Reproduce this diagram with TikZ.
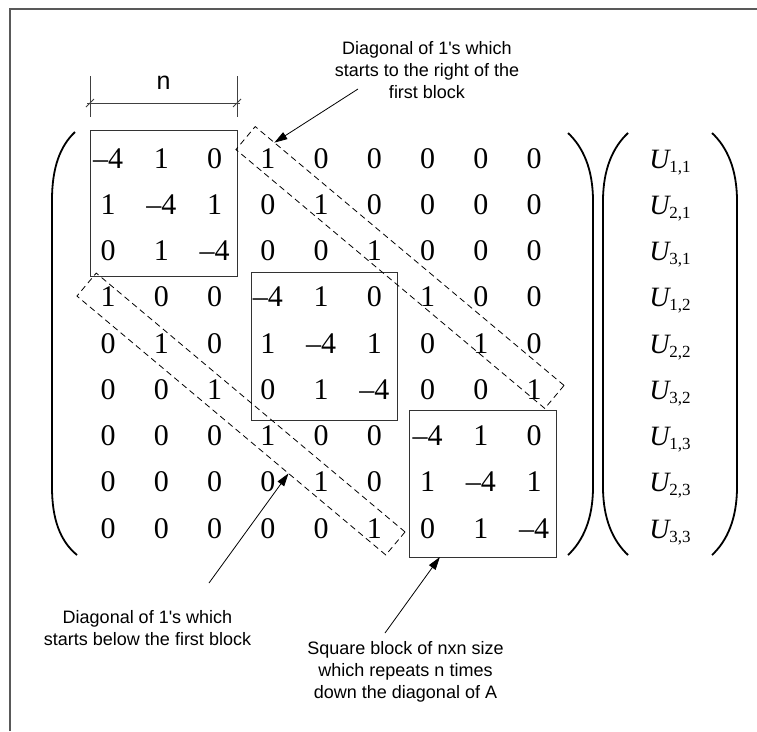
\documentclass[tikz,border=0pt]{standalone}
\usepackage{fontspec}
\setmainfont{Liberation Serif}
\newfontfamily\lbl{Liberation Sans}[Ligatures=TeXOff]
\usetikzlibrary{arrows.meta,calc}
\begin{document}
\begin{tikzpicture}[x=1pt,y=-1pt,
  frame/.style={draw=black!65, line width=1.2pt},
  blk/.style={draw=black!80, line width=1pt, rectangle, inner sep=0pt, outer sep=0pt},
  band/.style={draw=black, line width=0.8pt, dash pattern=on 6pt off 4pt, rectangle, inner sep=0pt, outer sep=0pt, minimum width=403pt, minimum height=30pt},
  num/.style={anchor=base, inner sep=0pt, font=\fontsize{30}{30}\selectfont},
  unk/.style={anchor=base, inner sep=0pt, font=\fontsize{28}{28}\selectfont},
  lab/.style={align=center, inner sep=0pt, font=\lbl\fontsize{18}{22}\selectfont},
  paren/.style={line width=1.8pt},
  arr/.style={line width=0.8pt, -{Triangle[length=13pt,width=8pt]}},
  dim/.style={draw=black!75, line width=0.9pt}
]
\useasboundingbox (0,0) rectangle (757,731);
% frame
\draw[frame] (10,731) -- (10,9) -- (757,9);

% matrix entries
\foreach \row [count=\r] in {%
  {–4,1,0,1,0,0,0,0,0},
  {1,–4,1,0,1,0,0,0,0},
  {0,1,–4,0,0,1,0,0,0},
  {1,0,0,–4,1,0,1,0,0},
  {0,1,0,1,–4,1,0,1,0},
  {0,0,1,0,1,–4,0,0,1},
  {0,0,0,1,0,0,–4,1,0},
  {0,0,0,0,1,0,1,–4,1},
  {0,0,0,0,0,1,0,1,–4}}{
  \foreach \v [count=\c] in \row {
    \node[num] (m-\r-\c) at ({108+53.25*(\c-1)},{168+46.25*(\r-1)}) {\v};
  }
}

% unknown vector
\foreach \i/\j [count=\r] in {1/1,2/1,3/1,1/2,2/2,3/2,1/3,2/3,3/3}{
  \node[unk] (u-\r) at (670,{168+46.25*(\r-1)}) {\itshape U\upshape\raisebox{-4pt}{\fontsize{17}{17}\selectfont\i,\j}};
}

% parentheses
\draw[paren] (75,132) .. controls (60,146) and (52,168) .. (52,200) -- (52,487) .. controls (52,519) and (60,541) .. (77,555);
\draw[paren] (568,133) .. controls (583,147) and (593,169) .. (593,201) -- (593,487) .. controls (593,519) and (583,541) .. (568,555);
\draw[paren] (628,133) .. controls (613,147) and (603,169) .. (603,201) -- (603,487) .. controls (603,519) and (613,541) .. (628,555);
\draw[paren] (712,133) .. controls (727,147) and (737,169) .. (737,201) -- (737,487) .. controls (737,519) and (727,541) .. (712,555);

% diagonal blocks
\node[blk, minimum width=147pt, minimum height=146pt] (b1) at (163.5,203) {};
\node[blk, minimum width=146pt, minimum height=148pt] (b2) at (324,346) {};
\node[blk, minimum width=147pt, minimum height=147pt] (b3) at (482.5,483.5) {};

% dashed bands of 1's
\node[band, rotate=-39.97] (ub) at (400,267.5) {};
\node[band, rotate=-39.97] (lb) at (241,414) {};

% dimension n
\draw[dim] ($(b1.north west)+(0,-54)$) -- ($(b1.north west)+(0,-13)$);
\draw[dim] ($(b1.north east)+(0,-54)$) -- ($(b1.north east)+(0,-13)$);
\draw[dim] ($(b1.north west)+(-3,-27)$) -- ($(b1.north east)+(3,-27)$);
\draw[dim] ($(b1.north west)+(-4,-23)$) -- ($(b1.north west)+(4,-31)$);
\draw[dim] ($(b1.north east)+(-4,-23)$) -- ($(b1.north east)+(4,-31)$);
\node[font=\lbl\fontsize{25}{25}\selectfont, anchor=base, inner sep=0pt] (nlab) at (163.5,89) {n};

% labels
\node[lab] (l1) at (427,70) {Diagonal of 1's which\\starts to the right of the\\first block};
\node[lab] (l2) at (147.5,628) {Diagonal of 1's which\\starts below the first block};
\node[lab] (l3) at (405.5,672) {Square block of nxn size\\which repeats n times\\down the diagonal of A};

% arrows
\coordinate (t1) at (358,89);
\coordinate (t2) at (209,583);
\coordinate (t3) at (385,633);
\draw[arr] (t1) -- ($(ub.north west)!0.062!(ub.north east)$);
\draw[arr] (t2) -- ($(lb.south west)!0.685!(lb.south east)$);
\draw[arr] (t3) -- ($(b3.south west)!0.21!(b3.south east)$);
\end{tikzpicture}
\end{document}
